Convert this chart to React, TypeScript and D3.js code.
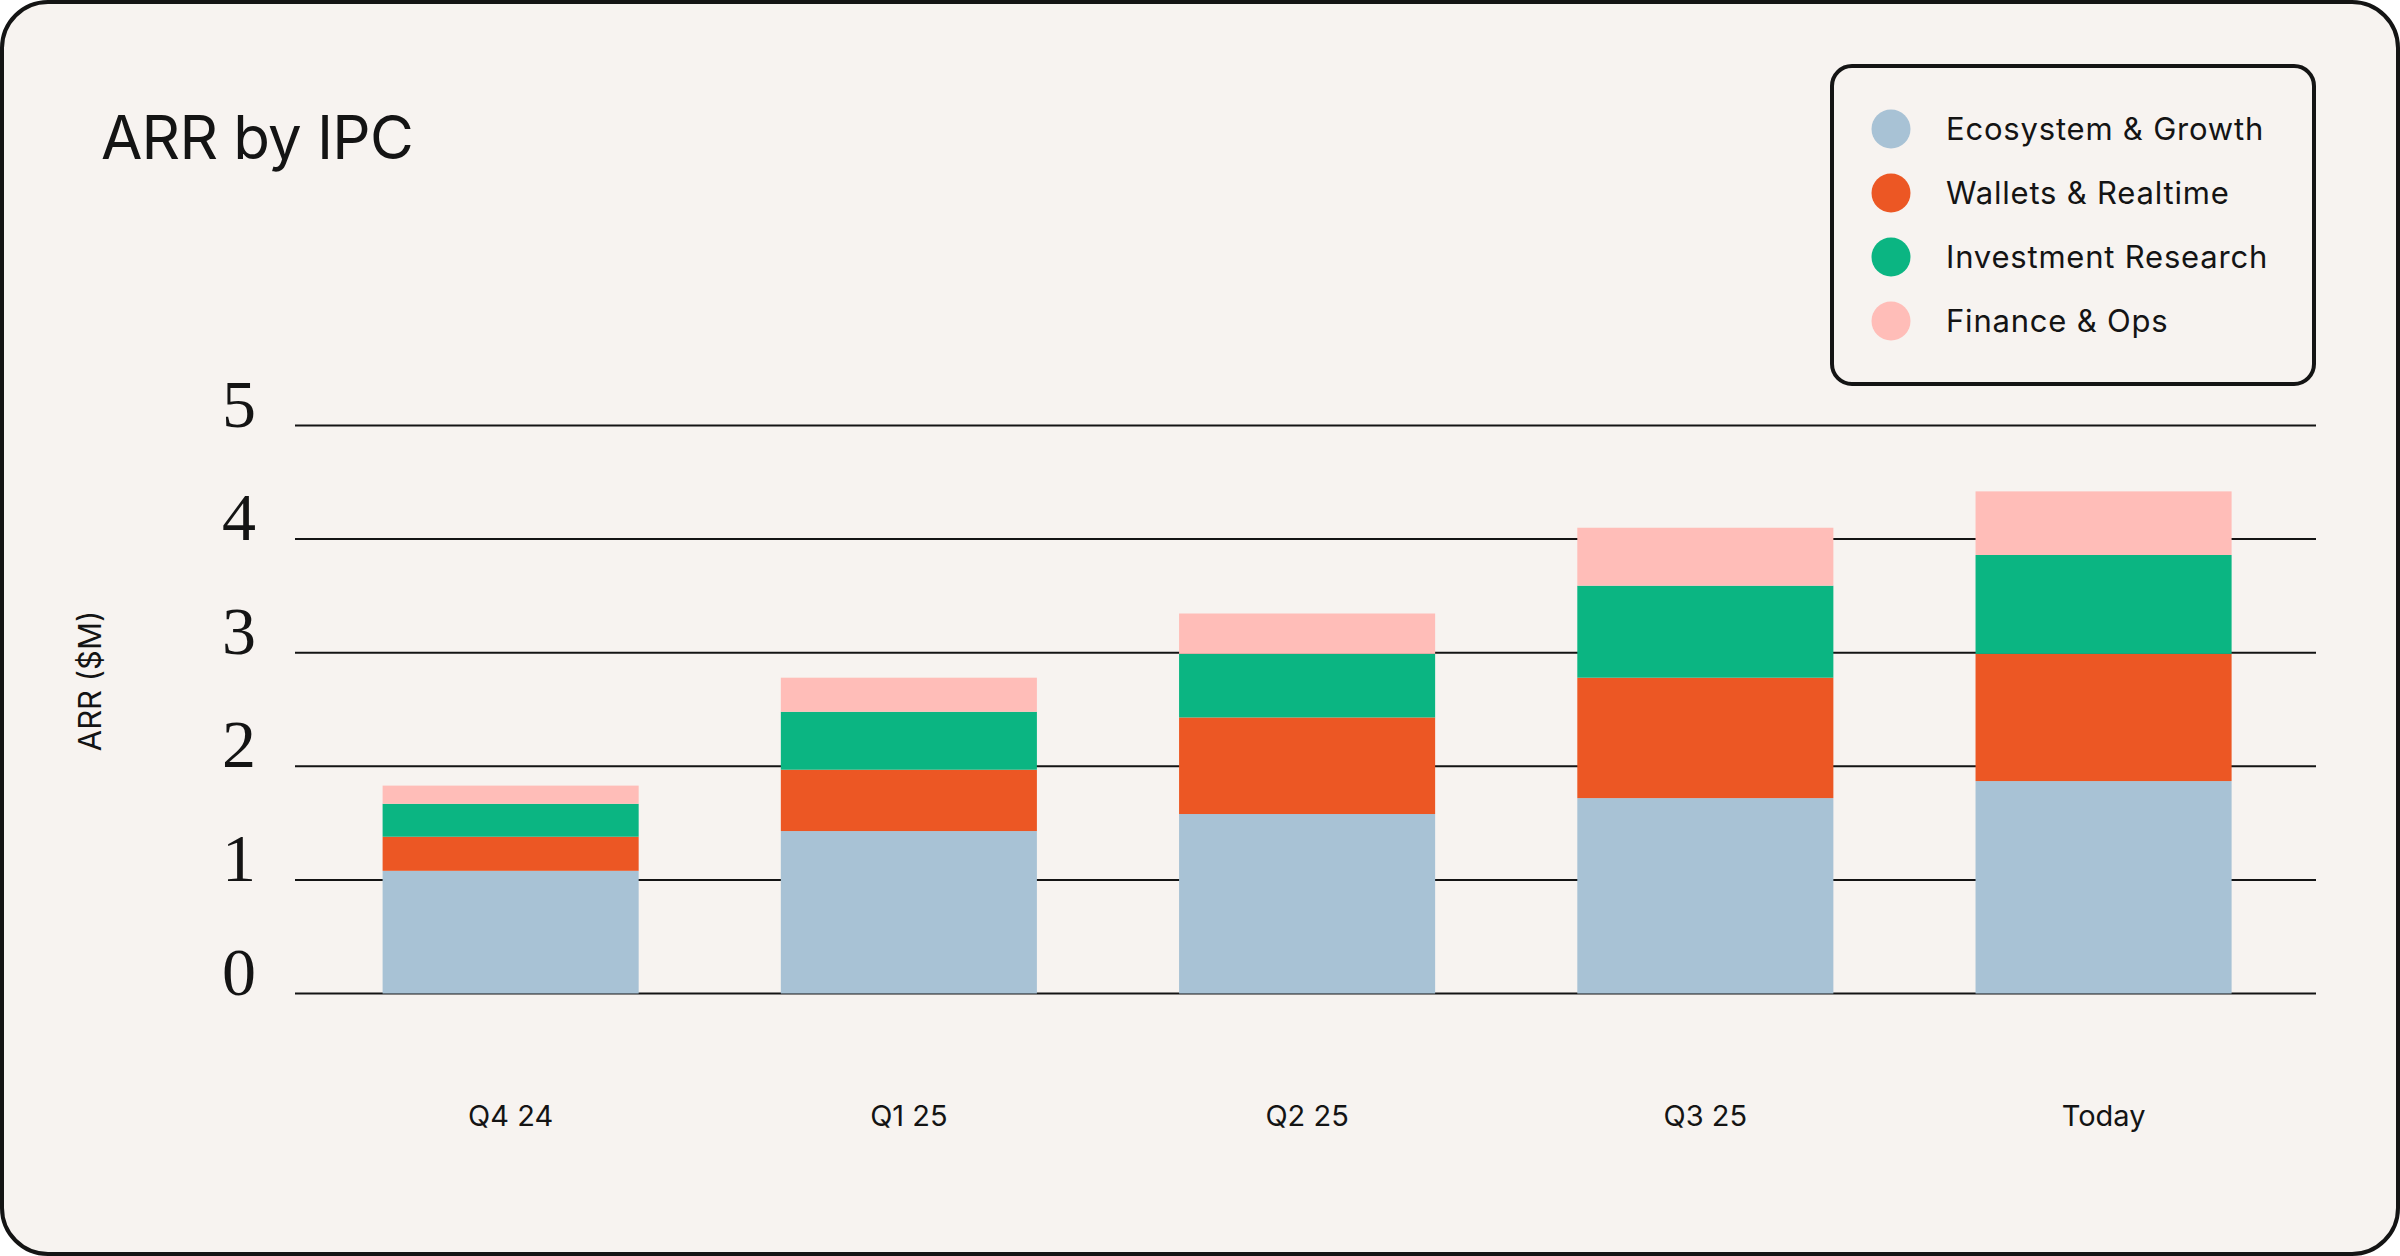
import React, { useEffect } from "react";
import * as d3 from "d3";

const categories = ["Q4 24", "Q1 25", "Q2 25", "Q3 25", "Today"];
const seriesNames = ["Ecosystem & Growth", "Wallets & Realtime", "Investment Research", "Finance & Ops"];
const ecosystem = [1.08, 1.43, 1.58, 1.72, 1.87];
const wallets = [0.3, 0.54, 0.85, 1.06, 1.12];
const investment = [0.29, 0.51, 0.56, 0.81, 0.87];
const finance = [0.16, 0.3, 0.355, 0.51, 0.56];
const yTicks = [0, 1, 2, 3, 4, 5];
const colors = ["#a8c2d5", "#ec5724", "#0bb582", "#ffbdb8"];

const W = 2400;
const H = 1256;
const INK = "#141414";
const SANS = "Inter, 'Noto Sans', sans-serif";

export default function App() {
  useEffect(() => {
    document.body.style.margin = "0";
    document.body.style.background = "#ffffff";
  }, []);

  const rows = categories.map((c, i) => ({
    cat: c,
    s0: ecosystem[i],
    s1: wallets[i],
    s2: investment[i],
    s3: finance[i],
  }));
  const keys = ["s0", "s1", "s2", "s3"];
  const stacked = d3.stack<any>().keys(keys)(rows);

  const x = d3
    .scaleBand<string>()
    .domain(categories)
    .range([382.6, 2231.6])
    .paddingInner(0.357)
    .paddingOuter(0);
  const y = d3.scaleLinear().domain([0, 5]).range([993.5, 425.5]);

  return (
    <svg
      width={W}
      height={H}
      style={{ position: "absolute", left: 0, top: 0, display: "block" }}
    >
      <rect x={0} y={0} width={W} height={H} fill="#ffffff" />
      <rect
        x={2}
        y={2}
        width={W - 4}
        height={H - 4}
        rx={46}
        ry={46}
        fill="#f7f3f0"
        stroke={INK}
        strokeWidth={4}
      />
      <text
        x={101}
        y={159}
        fontFamily={SANS}
        fontSize={60}
        fill={INK}
        letterSpacing={-0.8}
      >
        ARR by IPC
      </text>

      {/* gridlines */}
      {yTicks.map((t) => (
        <line
          key={"g" + t}
          x1={295}
          x2={2316}
          y1={y(t)}
          y2={y(t)}
          stroke={INK}
          strokeWidth={2}
        />
      ))}
      {yTicks.map((t) => (
        <text
          key={"t" + t}
          x={239}
          y={y(t) + 1}
          textAnchor="middle"
          fontFamily="'Liberation Serif', 'DejaVu Serif', serif"
          fontSize={68}
          fill={INK}
        >
          {t}
        </text>
      ))}
      <text
        transform={`translate(101,681) rotate(-90)`}
        textAnchor="middle"
        fontFamily={SANS}
        fontSize={31}
        fill={INK}
      >
        ARR ($M)
      </text>

      {/* bars */}
      {stacked.map((layer, li) => (
        <g key={"l" + li} fill={colors[li]}>
          {layer.map((d: any, i: number) => (
            <rect
              key={i}
              x={x(d.data.cat)}
              y={y(d[1])}
              width={x.bandwidth()}
              height={y(d[0]) - y(d[1])}
            />
          ))}
        </g>
      ))}

      {/* x labels */}
      {categories.map((c) => (
        <text
          key={"x" + c}
          x={(x(c) as number) + x.bandwidth() / 2}
          y={1126}
          textAnchor="middle"
          fontFamily={SANS}
          fontSize={29}
          fill={INK}
        >
          {c}
        </text>
      ))}

      {/* legend */}
      <rect
        x={1832}
        y={66}
        width={482}
        height={318}
        rx={20}
        ry={20}
        fill="none"
        stroke={INK}
        strokeWidth={4}
      />
      {seriesNames.map((n, i) => (
        <g key={"lg" + i}>
          <circle cx={1891} cy={129 + 64 * i} r={19.5} fill={colors[i]} />
          <text
            x={1946}
            y={139.5 + 64 * i}
            fontFamily={SANS}
            fontSize={31}
            letterSpacing={0.8}
            fill={INK}
          >
            {n}
          </text>
        </g>
      ))}
    </svg>
  );
}
